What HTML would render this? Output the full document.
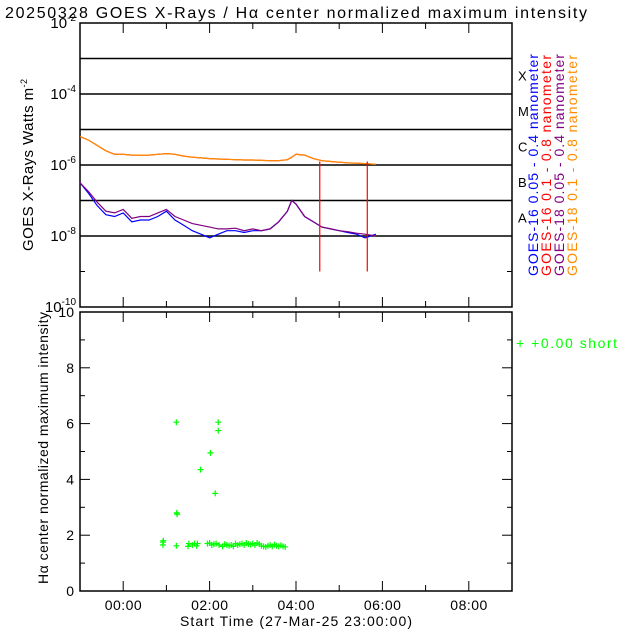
<!DOCTYPE html>
<html><head><meta charset="utf-8"><style>
body{margin:0;background:#fff;}
svg{display:block;font-family:"Liberation Sans",sans-serif;}
</style></head><body>
<svg id="c" width="640" height="640" xmlns="http://www.w3.org/2000/svg">
<text x="5" y="18" font-size="16" fill="#000" textLength="582" lengthAdjust="spacing">20250328 GOES X-Rays / Hα center normalized maximum intensity</text>
</svg>
<script>
// ---- data (time in hours relative to 00:00, 27-Mar-25 23:00 start = -1) ----
const xrsTime = [-1,-0.8,-0.6,-0.4,-0.2,0,0.2,0.4,0.6,0.8,1.0,1.2,1.4,1.6,1.8,2.0,2.2,2.4,2.6,2.8,3.0,3.2,3.4,3.6,3.8,3.9,4.0,4.2,4.4,4.6,4.8,5.0,5.2,5.4,5.6,5.85];
const longFlux = [-5.2,-5.3,-5.45,-5.6,-5.7,-5.7,-5.72,-5.72,-5.72,-5.7,-5.68,-5.7,-5.75,-5.78,-5.8,-5.82,-5.83,-5.84,-5.85,-5.86,-5.86,-5.87,-5.88,-5.88,-5.85,-5.78,-5.7,-5.72,-5.82,-5.88,-5.9,-5.92,-5.94,-5.95,-5.96,-5.98];
const short18 = [-6.5,-6.75,-7.05,-7.3,-7.35,-7.25,-7.5,-7.45,-7.45,-7.35,-7.25,-7.45,-7.55,-7.65,-7.7,-7.75,-7.8,-7.8,-7.78,-7.85,-7.8,-7.85,-7.8,-7.6,-7.3,-7.0,-7.1,-7.45,-7.6,-7.75,-7.8,-7.85,-7.88,-7.92,-7.95,-8.0];
const short16 = [-6.5,-6.8,-7.15,-7.4,-7.45,-7.35,-7.6,-7.55,-7.55,-7.45,-7.3,-7.55,-7.7,-7.85,-7.95,-8.05,-7.95,-7.85,-7.85,-7.9,-7.85,-7.85,-7.8,-7.6,-7.3,-7.0,-7.1,-7.45,-7.6,-7.75,-7.8,-7.85,-7.9,-7.95,-8.05,-7.95];
const dropTimes = [4.55,5.65];
const dropFloor = -9.0;
const haTime = [0.92,0.92,0.93,1.23,1.24,1.25,1.23,1.5,1.52,1.6,1.65,1.7,1.72,1.79,1.95,2.0,2.02,2.05,2.1,2.13,2.15,2.2,2.2,2.22,2.3,2.35,2.4,2.45,2.5,2.55,2.6,2.65,2.7,2.75,2.8,2.85,2.9,2.95,3.0,3.05,3.1,3.15,3.2,3.25,3.3,3.35,3.4,3.45,3.5,3.55,3.6,3.65,3.7,3.75];
const haValue = [1.65,1.75,1.8,1.62,2.8,2.75,6.05,1.6,1.7,1.65,1.7,1.62,1.7,4.35,1.7,1.72,4.95,1.65,1.68,3.5,1.7,5.75,6.05,1.65,1.6,1.68,1.65,1.62,1.65,1.6,1.7,1.65,1.68,1.7,1.65,1.72,1.68,1.66,1.7,1.65,1.72,1.68,1.62,1.6,1.58,1.62,1.65,1.6,1.66,1.62,1.6,1.64,1.6,1.58];
const timeTicks = ["00:00","02:00","04:00","06:00","08:00"];
const logTicks = [-2,-4,-6,-8,-10];
const haTicks = [0,2,4,6,8,10];
const classLabels = ["X","M","C","B","A"];

const NS="http://www.w3.org/2000/svg", svg=document.getElementById('c');
function mk(t,a,p){const e=document.createElementNS(NS,t);for(const k in a)e.setAttribute(k,a[k]);(p||svg).appendChild(e);return e;}
const L=80,R=512,T1=23,B1=307,T2=312,B2=591;
const xs=h=>L+(h+1)*(R-L)/10;
const y1=lg=>T1+(-2-lg)*(B1-T1)/8;
const y2=v=>B2-v*(B2-T2)/10;

let e=mk('rect',{x:L,y:T1,width:R-L,height:B1-T1,fill:'none',stroke:'#000','stroke-width':1.5});

for(let d=-3;d>=-8;d--){e=mk('line',{x1:L,x2:R,y1:y1(d),y2:y1(d),stroke:'#000','stroke-width':1.5});
}
mk('line',{x1:L,x2:L+5,y1:y1(-9),y2:y1(-9),stroke:'#000'});mk('line',{x1:R-5,x2:R,y1:y1(-9),y2:y1(-9),stroke:'#000'});
logTicks.forEach(lg=>{const t=mk('text',{x:L-4,y:y1(lg)+5,'font-size':15,'text-anchor':'end'});

t.innerHTML='10<tspan dy="-7" font-size="10">'+lg+'</tspan>';});
for(let h=0;h<=8;h++){const len=h%2==0?10:6;mk('line',{x1:xs(h),x2:xs(h),y1:T1,y2:T1+len,stroke:'#000'});mk('line',{x1:xs(h),x2:xs(h),y1:B1,y2:B1-len,stroke:'#000'});}
classLabels.forEach((c,i)=>{const t=mk('text',{x:518,y:y1(-3.5-i)+4,'font-size':13});t.textContent=c;
});
e=mk('text',{transform:'translate(33,165) rotate(-90)','text-anchor':'middle','font-size':15,textLength:172,lengthAdjust:'spacing'});
e.innerHTML='GOES X-Rays Watts m<tspan dy="-6" font-size="9">-2</tspan>';


function line(t,v,col,name){let d='';t.forEach((h,i)=>{d+=(i?'L':'M')+xs(h).toFixed(1)+','+y1(v[i]).toFixed(1);});
const p=mk('path',{d,fill:'none',stroke:col,'stroke-width':1.2});}
line(xrsTime,longFlux,'#ff0000','goes16-long-series');
line(xrsTime,longFlux,'#ff8c00','goes18-long-series');
line(xrsTime,short16,'#0000ff','goes16-short-series');
line(xrsTime,short18,'#800080','goes18-short-series');
dropTimes.forEach(h=>{e=mk('line',{x1:xs(h),x2:xs(h),y1:y1(-5.9),y2:y1(dropFloor),stroke:'#ff0000','stroke-width':1.2});
});

const leg=[["GOES-16 0.05 - 0.4 nanometer","#0000ff"],["GOES-16 0.1 - 0.8 nanometer","#ff0000"],["GOES-18 0.05 - 0.4 nanometer","#800080"],["GOES-18 0.1 - 0.8 nanometer","#ff8c00"]];
leg.forEach((l,i)=>{const t=mk('text',{transform:'translate('+(538+i*13)+',276) rotate(-90)','font-size':14,fill:l[1],textLength:i%2==0?222:221,lengthAdjust:'spacing'});t.textContent=l[0];
});

e=mk('rect',{x:L,y:T2,width:R-L,height:B2-T2,fill:'none',stroke:'#000','stroke-width':1.5});

for(let v=0;v<=10;v++){const len=v%2==0?10:5;mk('line',{x1:L,x2:L+len,y1:y2(v),y2:y2(v),stroke:'#000'});mk('line',{x1:R-len,x2:R,y1:y2(v),y2:y2(v),stroke:'#000'});}
haTicks.forEach(v=>{const t=mk('text',{x:L-6,y:y2(v)+5,'font-size':14,'text-anchor':'end'});t.textContent=v;
});
for(let h=0;h<=8;h++){const len=h%2==0?10:6;mk('line',{x1:xs(h),x2:xs(h),y1:B2,y2:B2-len,stroke:'#000'});mk('line',{x1:xs(h),x2:xs(h),y1:T2,y2:T2+len,stroke:'#000'});}
timeTicks.forEach((s,i)=>{const t=mk('text',{x:xs(i*2),y:610,'font-size':14,'text-anchor':'middle',textLength:37,lengthAdjust:'spacing'});t.textContent=s;
});
e=mk('text',{x:296,y:626,'font-size':14,'text-anchor':'middle',textLength:232,lengthAdjust:'spacing'});e.textContent='Start Time (27-Mar-25 23:00:00)';

e=mk('text',{transform:'translate(48,448) rotate(-90)','text-anchor':'middle','font-size':14,textLength:272,lengthAdjust:'spacing'});e.textContent='Hα center normalized maximum intensity';

haTime.forEach((h,i)=>{const x=xs(h),y=y2(haValue[i]);
const p=mk('path',{d:`M${x-3},${y}H${x+3}M${x},${y-3}V${y+3}`,stroke:'#00ff00','stroke-width':1.2});
});
e=mk('text',{x:516,y:348,'font-size':14,fill:'#00ff00',textLength:101,lengthAdjust:'spacing'});e.textContent='+  +0.00 short';

</script>
</body></html>
